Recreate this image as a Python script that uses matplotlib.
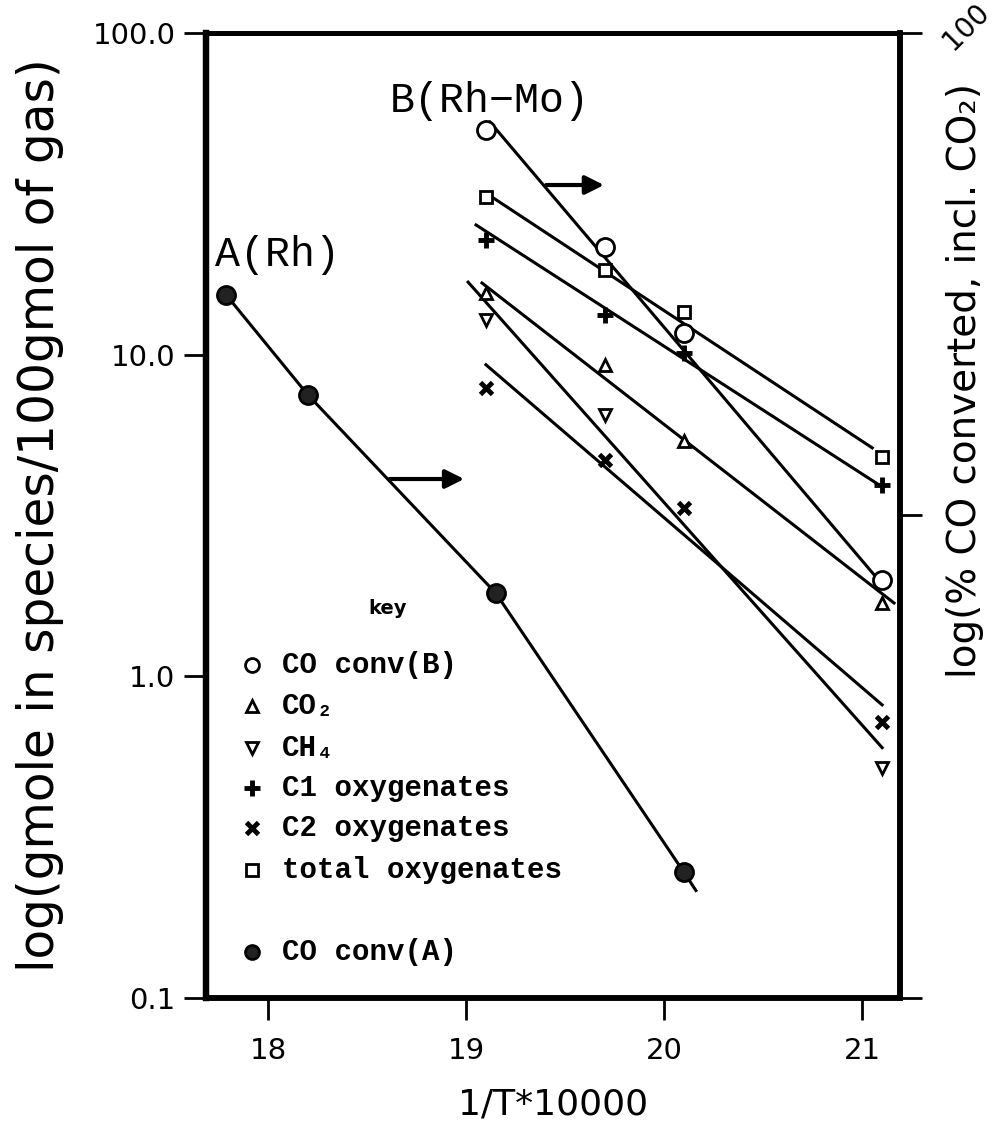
import matplotlib
matplotlib.use("Agg")
import matplotlib.pyplot as plt
from matplotlib.ticker import NullLocator

# --- data ---
x_b = [19.1, 19.7, 20.1, 21.1]
co_conv_b = [62.9, 36.0, 23.9, 7.35]        # right axis (% CO converted)
co2 = [15.5, 9.3, 5.4, 1.69]
c1_oxy = [22.7, 13.3, 10.1, 3.94]
c2_oxy = [7.9, 4.7, 3.34, 0.72]
total_oxy = [30.9, 18.3, 13.6, 4.8]
x_ch4 = [19.1, 19.7, 21.1]
ch4 = [12.8, 6.5, 0.52]

x_a = [17.79, 18.2, 19.15, 20.1]
co_conv_a = [28.6, 17.8, 6.9, 1.82]          # right axis

# fitted lines (end points as drawn)
co_conv_b_fit_x, co_conv_b_fit_y = [19.12, 21.1], [65.4, 7.2]
total_fit_x, total_fit_y = [19.13, 21.05], [30.9, 5.13]
c1_fit_x, c1_fit_y = [19.05, 21.1], [25.3, 3.88]
co2_fit_x, co2_fit_y = [19.08, 21.16], [16.7, 1.69]
ch4_fit_x, ch4_fit_y = [19.01, 21.1], [16.8, 0.60]
c2_fit_x, c2_fit_y = [19.1, 21.1], [9.3, 0.815]
a_line_x = [17.79, 18.2, 19.15, 20.1, 20.16]
a_line_y = [28.6, 17.8, 6.9, 1.82, 1.67]

x_ticks = [18, 19, 20, 21]
y_ticks = [0.1, 1.0, 10.0, 100.0]
y_tick_labels = ["0.1", "1.0", "10.0", "100.0"]

legend_labels = ["CO conv(B)", "CO\u2082", "CH\u2084", "C1 oxygenates",
                 "C2 oxygenates", "total oxygenates", "CO conv(A)"]

mono = ["Liberation Mono", "DejaVu Sans Mono"]
sans = ["DejaVu Sans"]

fig = plt.figure(figsize=(10.04, 11.36), dpi=100)
ax = fig.add_axes([0.2052, 0.1215, 0.6912, 0.8495])
ax2 = ax.twinx()

ax.set_yscale("log")
ax.set_ylim(0.1, 100)
ax.set_xlim(17.687, 21.19)
ax2.set_yscale("log")
ax2.set_ylim(1, 100)

lw = 2.2
# left-axis species
ax.plot(total_fit_x, total_fit_y, "k-", lw=lw)
ax.plot(c1_fit_x, c1_fit_y, "k-", lw=lw)
ax.plot(co2_fit_x, co2_fit_y, "k-", lw=lw)
ax.plot(ch4_fit_x, ch4_fit_y, "k-", lw=lw)
ax.plot(c2_fit_x, c2_fit_y, "k-", lw=lw)

mk = dict(ls="none", color="k", mfc="white", mew=2)
ax.plot(x_b, total_oxy, marker="s", ms=9, **mk)
ax.plot(x_b, co2, marker="^", ms=9, **mk)
ax.plot(x_ch4, ch4, marker="v", ms=9, **mk)
ax.plot(x_b, c1_oxy, ls="none", marker="+", ms=12, mew=3.5, color="k")
ax.plot(x_b, c2_oxy, ls="none", marker="x", ms=9, mew=3.5, color="k")

# right-axis conversions
ax2.plot(co_conv_b_fit_x, co_conv_b_fit_y, "k-", lw=lw)
ax2.plot(x_b, co_conv_b, marker="o", ms=13, **mk)
ax2.plot(a_line_x, a_line_y, "k-", lw=lw)
ax2.plot(x_a, co_conv_a, ls="none", marker="o", ms=13, color="k", mfc="#222222", mew=2)

arrow = dict(arrowstyle="-|>", lw=3, color="k", mutation_scale=28)
ax2.annotate("", xy=(19.004, 11.9), xytext=(18.60, 11.9), arrowprops=arrow)
ax2.annotate("", xy=(19.71, 48.4), xytext=(19.39, 48.4), arrowprops=arrow)

# axes styling
for side, w in [("left", 4.5), ("bottom", 4), ("top", 3.5), ("right", 4)]:
    ax.spines[side].set_linewidth(w)
    ax2.spines[side].set_linewidth(w)

ax.set_xticks(x_ticks)
ax.set_xticklabels([str(t) for t in x_ticks], fontsize=21, family=sans)
ax.set_yticks(y_ticks)
ax.set_yticklabels(y_tick_labels, fontsize=21, family=sans)
ax.yaxis.set_minor_locator(NullLocator())
ax.tick_params(axis="x", direction="out", length=16, width=2, pad=12)
ax.tick_params(axis="y", direction="out", length=16, width=2, pad=6)

ax2.set_yticks([1, 10, 100])
ax2.set_yticklabels([])
ax2.yaxis.set_minor_locator(NullLocator())
ax2.tick_params(axis="y", direction="out", length=16, width=2)
fig.text(966 / 1004, 1 - 27 / 1136, "100", rotation=45, ha="center", va="center",
         fontsize=20, family=sans)

fig.text(40 / 1004, 0.5467, "log(gmole in species/100gmol of gas)", rotation=90,
         ha="center", va="center", fontsize=35, family=sans)
fig.text(965 / 1004, 0.665, "log(% CO converted, incl. CO\u2082)", rotation=90,
         ha="center", va="center", fontsize=28, family=sans)
ax.set_xlabel("1/T*10000", fontsize=26, family=sans, labelpad=16)

# series labels
ax.text(0.013, 0.758, "A(Rh)", transform=ax.transAxes, fontsize=30, family=mono,
        va="baseline")
ax.text(0.265, 0.918, "B(Rh\u2212Mo)", transform=ax.transAxes, fontsize=30, family=mono,
        va="baseline")

# hand-drawn key
ax.text(0.262, 0.404, "key", transform=ax.transAxes, fontsize=14, family=sans,
        weight="bold", ha="center", va="center")
key_y = [0.345, 0.3026, 0.259, 0.2176, 0.176, 0.1326, 0.0477]
key_marks = [("o", "white", 2, 10), ("^", "white", 2, 9), ("v", "white", 2, 9),
             ("+", "k", 3.5, 11), ("x", "k", 3.5, 8), ("s", "white", 2, 9),
             ("o", "#222222", 2, 10)]
for yy, lab, (m, fc, mw, ms) in zip(key_y, legend_labels, key_marks):
    ax.plot([0.0663], [yy], transform=ax.transAxes, marker=m, ms=ms, mew=mw,
            color="k", mfc=fc, ls="none", clip_on=False)
    ax.text(0.1095, yy, lab, transform=ax.transAxes, fontsize=21, family=mono,
            weight="bold", va="center")

fig.savefig("out.png", dpi=100)
